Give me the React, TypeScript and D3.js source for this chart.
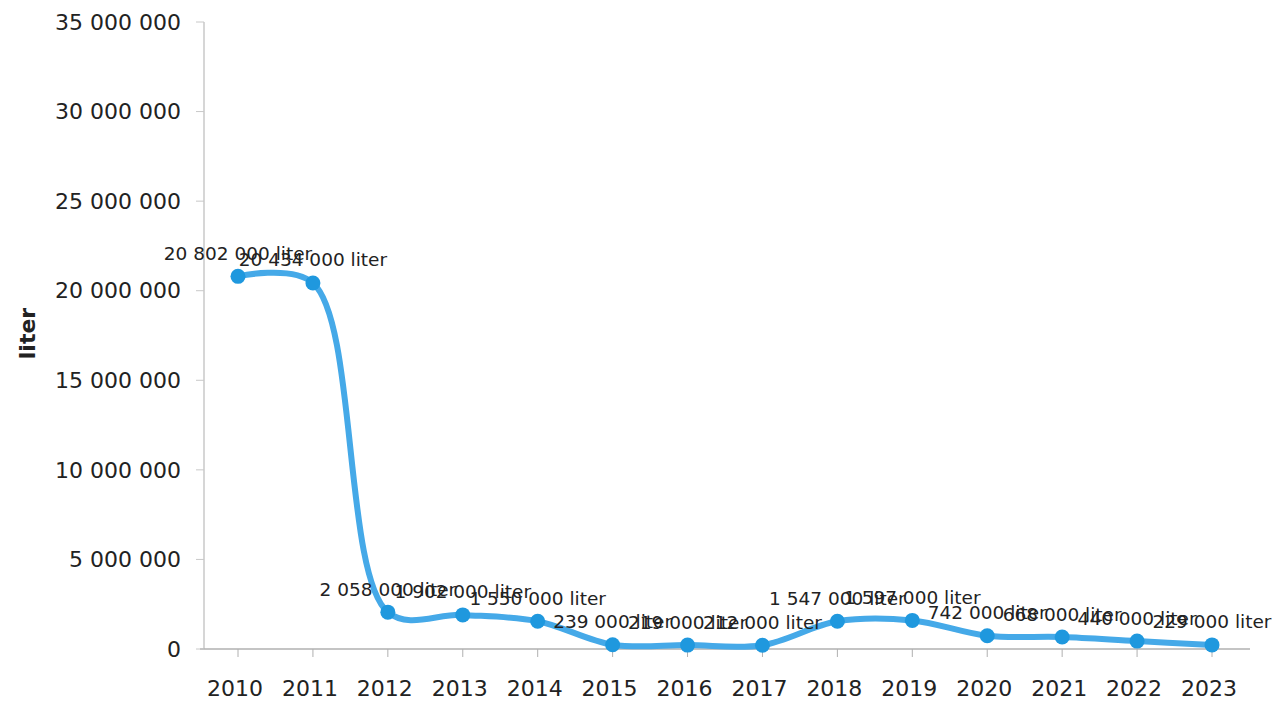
import * as d3 from "d3";
import { useEffect, useRef } from "react";

const years = ["2010", "2011", "2012", "2013", "2014", "2015", "2016", "2017", "2018", "2019", "2020", "2021", "2022", "2023"];
const liters = [20802000, 20434000, 2058000, 1902000, 1550000, 239000, 219000, 212000, 1547000, 1597000, 742000, 668000, 440000, 229000];
const yTicks = [0, 5000000, 10000000, 15000000, 20000000, 25000000, 30000000, 35000000];

const W = 1284;
const H = 701;

function LineChart() {
  const ref = useRef<SVGSVGElement>(null);

  useEffect(() => {
    const svg = d3.select(ref.current);
    svg.selectAll("*").remove();

    const fmt = (v: number) => d3.format(",")(v).replace(/,/g, " ");
    const font = "'DejaVu Sans', Verdana, sans-serif";

    // point scale so the years sit on the points
    const x = d3.scalePoint<string>().domain(years).range([238, 1212]);
    const y = d3.scaleLinear().domain([0, 35000000]).range([649, 22]);

    // axes
    svg.append("line")
      .attr("x1", 204).attr("x2", 204)
      .attr("y1", y(35000000)).attr("y2", y(0))
      .attr("stroke", "#c8c8c8").attr("stroke-width", 1.5);
    svg.append("line")
      .attr("x1", 200).attr("x2", 1250)
      .attr("y1", y(0)).attr("y2", y(0))
      .attr("stroke", "#b0b0b0").attr("stroke-width", 1.5);

    svg.selectAll(".ytick")
      .data(yTicks)
      .enter()
      .append("line")
      .attr("x1", 196).attr("x2", 204)
      .attr("y1", d => y(d)).attr("y2", d => y(d))
      .attr("stroke", "#c8c8c8");

    svg.selectAll(".ylab")
      .data(yTicks)
      .enter()
      .append("text")
      .attr("x", 181)
      .attr("y", d => y(d))
      .attr("dy", "0.35em")
      .attr("text-anchor", "end")
      .attr("font-family", font)
      .attr("font-size", 22)
      .attr("fill", "#222")
      .text(d => fmt(d));

    svg.selectAll(".xtick")
      .data(years)
      .enter()
      .append("line")
      .attr("x1", d => x(d)!).attr("x2", d => x(d)!)
      .attr("y1", y(0)).attr("y2", y(0) + 8)
      .attr("stroke", "#b0b0b0");

    svg.selectAll(".xlab")
      .data(years)
      .enter()
      .append("text")
      .attr("x", d => x(d)! - 3)
      .attr("y", 688)
      .attr("dy", "0.35em")
      .attr("text-anchor", "middle")
      .attr("font-family", font)
      .attr("font-size", 22)
      .attr("fill", "#222")
      .text(d => d);

    // axis title
    svg.append("text")
      .attr("transform", `translate(27,${y(17500000) - 2}) rotate(-90)`)
      .attr("dy", "0.35em")
      .attr("text-anchor", "middle")
      .attr("font-family", font)
      .attr("font-size", 22)
      .attr("font-weight", "bold")
      .attr("fill", "#222")
      .text("liter");

    // smooth line
    const pts = years.map((yr, i) => ({ yr, v: liters[i] }));
    const line = d3.line<{ yr: string; v: number }>()
      .x(d => x(d.yr)!)
      .y(d => y(d.v))
      .curve(d3.curveCatmullRom.alpha(0.5));

    svg.append("path")
      .datum(pts)
      .attr("d", line)
      .attr("fill", "none")
      .attr("stroke", "#45a9e8")
      .attr("stroke-width", 6)
      .attr("stroke-linejoin", "round");

    svg.selectAll(".dot")
      .data(pts)
      .enter()
      .append("circle")
      .attr("cx", d => x(d.yr)!)
      .attr("cy", d => y(d.v))
      .attr("r", 7.5)
      .attr("fill", "#1f98de");

    // data labels
    svg.selectAll(".dlab")
      .data(pts)
      .enter()
      .append("text")
      .attr("x", d => x(d.yr)!)
      .attr("y", d => y(d.v) - 23)
      .attr("dy", "0.35em")
      .attr("text-anchor", "middle")
      .attr("font-family", font)
      .attr("font-size", 18.5)
      .attr("fill", "#222")
      .text(d => `${fmt(d.v)} liter`);
  }, []);

  return <svg ref={ref} width={W} height={H} style={{ position: "absolute", left: 0, top: 0, background: "#fff" }} />;
}

export default function App() {
  return <LineChart />;
}
